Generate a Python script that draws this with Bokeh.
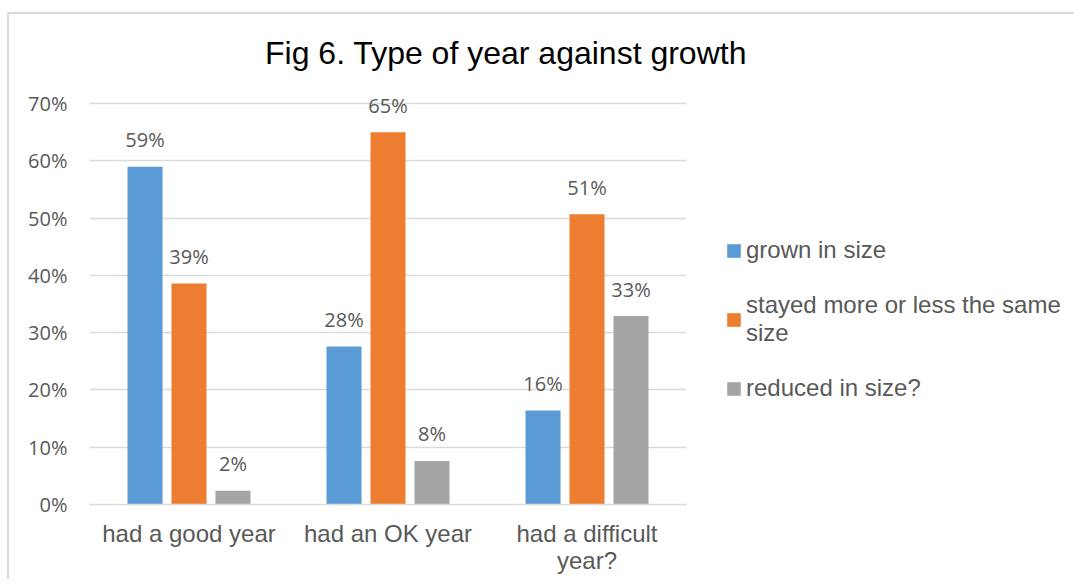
from bokeh.plotting import figure
from bokeh.layouts import row, column
from bokeh.models import (ColumnDataSource, FixedTicker, Range1d, Legend, LegendItem,
                          PrintfTickFormatter, Div)
from bokeh.transform import dodge
from bokeh.core.properties import value
from bokeh.embed import file_html
from bokeh.resources import INLINE

categories = ["had a good year", "had an OK year", "had a difficult year?"]
category_display = {"had a difficult year?": "had a difficult\nyear?"}
series_names = ["grown in size", "stayed more or less the same\nsize", "reduced in size?"]
grown = [59.0, 27.6, 16.4]
same = [38.6, 65.0, 50.7]
reduced = [2.4, 7.6, 32.9]
y_ticks = [0, 10, 20, 30, 40, 50, 60, 70]
title_text = "Fig 6. Type of year against growth"

colors = ["#5B9BD5", "#ED7D31", "#A5A5A5"]
offsets = [-0.221, 0.0, 0.221]
TXT = "#595959"
GRID = "#D9D9D9"
ARIAL = "Liberation Sans"

factors = [category_display.get(c, c) for c in categories]
data = dict(cat=factors, grown=grown, same=same, reduced=reduced)
for key, vals in [("grown", grown), ("same", same), ("reduced", reduced)]:
    data[key + "_lbl"] = ["%d%%" % int(round(v)) for v in vals]
source = ColumnDataSource(data)

D = 52
H = 503

title = Div(text=('<div style="padding:18px 0 0 251px; font-family:\'Liberation Sans\'; '
                  'font-size:32px; line-height:32px; color:#000000; white-space:nowrap;">'
                  + title_text + '</div>'),
            width=1055, height=D)

p = figure(x_range=factors, y_range=Range1d(0, 73), width=700, height=H,
           output_backend="svg", toolbar_location=None,
           min_border_left=80, min_border_right=23, min_border_top=10, min_border_bottom=75)
p.outline_line_color = None

p.xgrid.grid_line_color = None
p.ygrid.grid_line_color = GRID
p.ygrid.grid_line_width = 1.5

p.yaxis.ticker = FixedTicker(ticks=y_ticks)
p.yaxis.formatter = PrintfTickFormatter(format="%d%%")
p.yaxis.axis_line_color = None
p.yaxis.major_tick_line_color = None
p.yaxis.minor_tick_line_color = None
p.yaxis.major_tick_out = 0
p.yaxis.major_tick_in = 0
p.yaxis.major_label_standoff = 22
p.yaxis.major_label_text_font = "Open Sans"
p.yaxis.major_label_text_font_size = "20px"
p.yaxis.major_label_text_color = TXT

p.xaxis.axis_line_color = GRID
p.xaxis.axis_line_width = 1.5
p.xaxis.major_tick_line_color = None
p.xaxis.minor_tick_line_color = None
p.xaxis.major_tick_out = 0
p.xaxis.major_tick_in = 0
p.xaxis.major_label_standoff = 15
p.xaxis.major_label_text_font = ARIAL
p.xaxis.major_label_text_font_size = "24px"
p.xaxis.major_label_text_line_height = 1.0
p.xaxis.major_label_text_color = TXT

keys = ["grown", "same", "reduced"]
for key, off, col in zip(keys, offsets, colors):
    p.vbar(x=dodge("cat", off, range=p.x_range), top=key, width=0.176,
           source=source, fill_color=col, line_color=None)
    p.text(x=dodge("cat", off, range=p.x_range), y=key, text=key + "_lbl", source=source,
           text_align="center", text_baseline="alphabetic", y_offset=-27,
           text_font=value("Open Sans"), text_font_size="20px", text_color=TXT)

# legend panel: the same series as zero-width bars, so that only the legend swatches show
p2 = figure(x_range=p.x_range, y_range=Range1d(0, 73), width=355, height=H,
            output_backend="svg", toolbar_location=None,
            min_border_left=0, min_border_right=0, min_border_top=0, min_border_bottom=0)
p2.outline_line_color = None
p2.axis.visible = False
p2.grid.visible = False
leg_renderers = []
for key, off, col in zip(keys, offsets, colors):
    r = p2.vbar(x=dodge("cat", off, range=p.x_range), top=key, width=0,
                source=source, fill_color=col, line_color=None)
    leg_renderers.append(r)

legend = Legend(items=[LegendItem(label=n, renderers=[r]) for n, r in zip(series_names, leg_renderers)],
                location=(16, 102), glyph_width=17, glyph_height=17, label_height=28,
                label_standoff=4, padding=0, margin=0, spacing=27,
                border_line_color=None, background_fill_alpha=0,
                label_text_font=ARIAL, label_text_font_size="24px", label_text_color=TXT)
p2.add_layout(legend)

layout = column(title, row(p, p2, spacing=0), spacing=0)
layout.styles = {"border-top": "2px solid #D9D9D9", "border-left": "2px solid #D9D9D9",
                 "margin-top": "5px", "margin-left": "1px",
                 "position": "relative", "top": "7px", "left": "6px"}

open("out.html", "w").write(file_html(layout, INLINE))
